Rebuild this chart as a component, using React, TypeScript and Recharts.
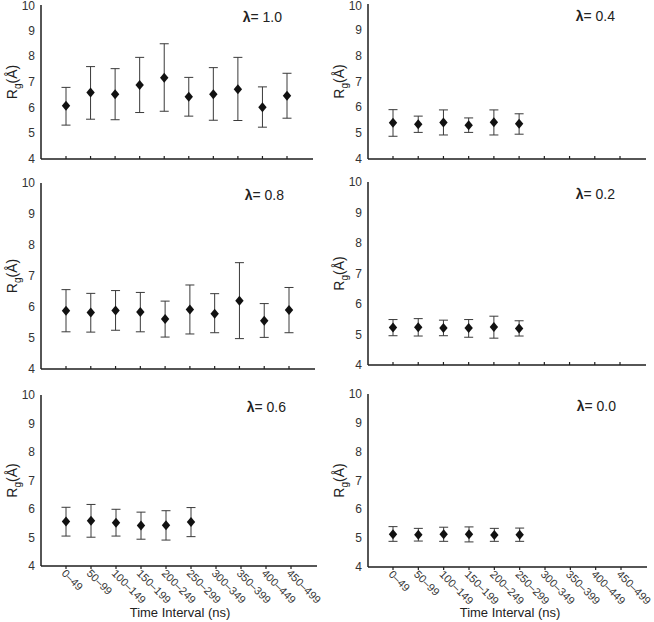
import React from "react";
import { LineChart, Line, XAxis, YAxis, ErrorBar } from "recharts";

const intervals = [
  "0–49", "50–99", "100–149", "150–199", "200–249",
  "250–299", "300–349", "350–399", "400–449", "450–499",
];
const yTicks = [4, 5, 6, 7, 8, 9, 10];

// lambda = 1.0
const l10Mean = [6.07, 6.59, 6.52, 6.88, 7.17, 6.43, 6.52, 6.72, 6.02, 6.46];
const l10Low = [5.32, 5.55, 5.53, 5.81, 5.86, 5.67, 5.51, 5.5, 5.24, 5.59];
const l10High = [6.79, 7.6, 7.52, 7.96, 8.49, 7.18, 7.56, 7.96, 6.81, 7.34];

// lambda = 0.4
const l04Mean = [5.4, 5.35, 5.41, 5.31, 5.42, 5.36];
const l04Low = [4.88, 5.03, 4.93, 5.03, 4.93, 4.96];
const l04High = [5.91, 5.66, 5.9, 5.59, 5.9, 5.75];

// lambda = 0.8
const l08Mean = [5.88, 5.82, 5.89, 5.84, 5.61, 5.92, 5.78, 6.2, 5.56, 5.9];
const l08Low = [5.2, 5.19, 5.25, 5.2, 5.03, 5.13, 5.17, 4.98, 5.02, 5.17];
const l08High = [6.56, 6.44, 6.53, 6.47, 6.19, 6.71, 6.43, 7.43, 6.11, 6.63];

// lambda = 0.2
const l02Mean = [5.23, 5.24, 5.21, 5.21, 5.25, 5.2];
const l02Low = [4.96, 4.95, 4.96, 4.91, 4.88, 4.95];
const l02High = [5.49, 5.52, 5.47, 5.49, 5.6, 5.45];

// lambda = 0.6
const l06Mean = [5.56, 5.59, 5.52, 5.42, 5.43, 5.54];
const l06Low = [5.05, 5.01, 5.05, 4.94, 4.91, 5.03];
const l06High = [6.06, 6.16, 5.99, 5.89, 5.94, 6.05];

// lambda = 0.0
const l00Mean = [5.14, 5.12, 5.14, 5.14, 5.11, 5.12];
const l00Low = [4.89, 4.9, 4.89, 4.87, 4.89, 4.89];
const l00High = [5.4, 5.34, 5.38, 5.39, 5.34, 5.35];

const INK = "#1e1e1e";

type Box = { x: number; y: number; w: number; h: number };

const buildData = (mean: number[], low: number[], high: number[]) =>
  intervals.map((cat, i) => {
    const m = mean[i];
    if (m == null) return { cat, mean: null, err: null };
    return { cat, mean: m, err: [m - low[i], high[i] - m] };
  });

const Diamond = (props: any) => {
  const { cx, cy, index } = props;
  if (cx == null || cy == null || Number.isNaN(cy)) return <g key={index} />;
  return (
    <path
      key={index}
      d={`M${cx},${cy - 5}L${cx + 4.2},${cy}L${cx},${cy + 5}L${cx - 4.2},${cy}Z`}
      fill="#111"
    />
  );
};

const makeTick = (showLabel: boolean) => (props: any) => {
  const { x, y, payload } = props;
  const tx = x - 5;
  const ty = y + 8;
  return (
    <g>
      <line x1={x} x2={x} y1={y} y2={showLabel ? y + 3 : y - 3} stroke={INK} strokeWidth={1.2} />
      {showLabel && (
        <text x={tx} y={ty} transform={`rotate(45 ${tx} ${ty})`} fontSize={11} fill="#333">
          {payload.value}
        </text>
      )}
    </g>
  );
};

// y tick labels; the top one is kept inside the page edge
const yTick = (props: any) => {
  const { x, y, payload } = props;
  return (
    <text x={x} y={Math.max(y, 6)} dy={4} textAnchor="end" fontSize={12} fill="#333">
      {payload.value}
    </text>
  );
};

const renderRgLabel = (props: any) => {
  const vb = props.viewBox;
  const cx = vb.x + vb.width - 29;
  const cy = vb.y + vb.height / 2;
  return (
    <text
      transform={`translate(${cx},${cy}) rotate(-90)`}
      textAnchor="middle"
      fontSize={14}
      fill="#222"
      dy={5}
    >
      R<tspan fontSize={10} dy={4}>g</tspan>
      <tspan dy={-4}>(Å)</tspan>
    </text>
  );
};

type PanelProps = {
  lambda: string;
  mean: number[];
  low: number[];
  high: number[];
  box: Box;
  showLabels: boolean;
};

function Panel({ lambda, mean, low, high, box, showLabels }: PanelProps) {
  const data = buildData(mean, low, high);
  const bottom = showLabels ? 50 : 10;
  const width = box.w + 50;
  const height = box.h + 10 + bottom;
  const top = box.y - 10;
  return (
    <div style={{ position: "absolute", left: box.x - 40, top }}>
      <LineChart
        width={width}
        height={height}
        data={data}
        margin={{ top: 10, right: 10, bottom: 0, left: 0 }}
      >
        <XAxis
          dataKey="cat"
          scale="point"
          padding={{ left: 25, right: 26 }}
          height={bottom}
          tickSize={0}
          tickMargin={0}
          tickLine={false}
          interval={0}
          tick={makeTick(showLabels)}
          axisLine={{ stroke: INK, strokeWidth: 1.5 }}
        />
        <XAxis
          xAxisId="top"
          dataKey="cat"
          orientation="top"
          height={0}
          tick={false}
          tickLine={false}
          axisLine={{ stroke: INK, strokeWidth: 1.5 }}
        />
        <YAxis
          domain={[4, 10]}
          ticks={yTicks}
          interval={0}
          width={40}
          tickLine={false}
          tickSize={4}
          tickMargin={2}
          tick={(p: any) => yTick({ ...p, y: p.y + top < 6 ? 6 - top : p.y })}
          axisLine={{ stroke: INK, strokeWidth: 1.5 }}
          label={{ content: renderRgLabel }}
        />
        <YAxis
          yAxisId="right"
          orientation="right"
          domain={[4, 10]}
          width={0}
          tick={false}
          tickLine={false}
          axisLine={{ stroke: INK, strokeWidth: 1.5 }}
        />
        <Line
          dataKey="mean"
          stroke="none"
          dot={Diamond}
          activeDot={false}
          isAnimationActive={false}
        >
          <ErrorBar dataKey="err" direction="y" width={4.5} stroke="#3a3a3a" strokeWidth={1} />
        </Line>
      </LineChart>
      <div
        style={{
          position: "absolute",
          right: 10 + 31,
          top: 15,
          fontSize: 14,
          lineHeight: "14px",
          color: "#222",
          whiteSpace: "nowrap",
        }}
      >
        <b>λ</b>= {lambda}
      </div>
    </div>
  );
}

export default function App() {
  return (
    <div
      style={{
        position: "absolute",
        left: 0,
        top: 0,
        width: 654,
        height: 622,
        background: "#fff",
        fontFamily: "'Liberation Sans', Arial, sans-serif",
      }}
    >
      <Panel lambda="1.0" mean={l10Mean} low={l10Low} high={l10High} box={{ x: 41, y: 5, w: 272, h: 154 }} showLabels={false} />
      <Panel lambda="0.4" mean={l04Mean} low={l04Low} high={l04High} box={{ x: 368, y: 4, w: 278, h: 155 }} showLabels={false} />
      <Panel lambda="0.8" mean={l08Mean} low={l08Low} high={l08High} box={{ x: 41, y: 183, w: 274, h: 186 }} showLabels={false} />
      <Panel lambda="0.2" mean={l02Mean} low={l02Low} high={l02High} box={{ x: 368, y: 182, w: 278, h: 183 }} showLabels={false} />
      <Panel lambda="0.6" mean={l06Mean} low={l06Low} high={l06High} box={{ x: 41, y: 395, w: 276, h: 171 }} showLabels={true} />
      <Panel lambda="0.0" mean={l00Mean} low={l00Low} high={l00High} box={{ x: 368, y: 394, w: 279, h: 173 }} showLabels={true} />
      <div style={{ position: "absolute", left: 80, width: 200, top: 605, textAlign: "center", fontSize: 13, color: "#222" }}>
        Time Interval (ns)
      </div>
      <div style={{ position: "absolute", left: 410, width: 200, top: 605, textAlign: "center", fontSize: 13, color: "#222" }}>
        Time Interval (ns)
      </div>
    </div>
  );
}
